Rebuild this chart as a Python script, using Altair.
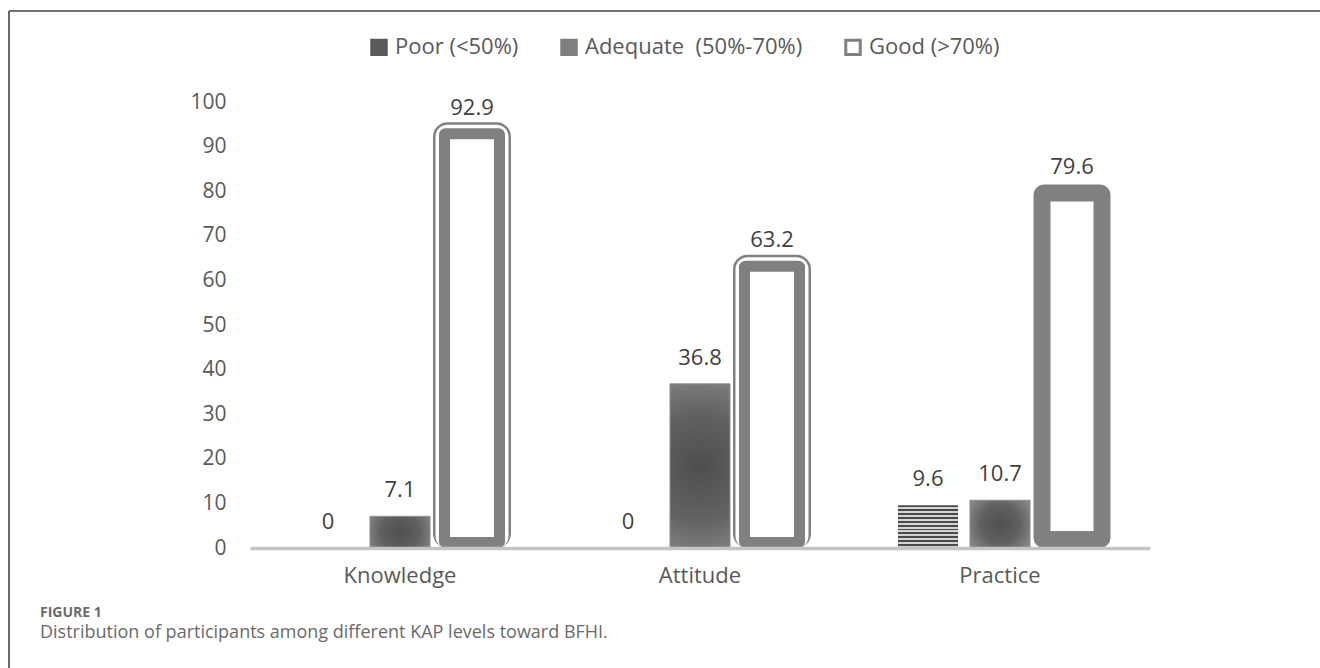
import altair as alt
import pandas as pd

categories = ["Knowledge", "Attitude", "Practice"]
series = ["Poor (<50%)", "Adequate\u00a0\u00a0(50%-70%)", "Good (>70%)"]
poor = [0, 0, 9.6]
adequate = [7.1, 36.8, 10.7]
good = [92.9, 63.2, 79.6]
y_ticks = [0, 10, 20, 30, 40, 50, 60, 70, 80, 90, 100]
caption_head = "FIGURE 1"
caption_text = "Distribution of participants among different KAP levels toward BFHI."

rows = []
for s, vals in zip(series, [poor, adequate, good]):
    for c, v in zip(categories, vals):
        rows.append({"category": c, "series": s, "value": v})
df = pd.DataFrame(rows)

FONT = "Open Sans"
GRAY = "#808080"

x_enc = alt.X("category:N", scale=alt.Scale(domain=categories, paddingInner=0.28, paddingOuter=0.14),
              axis=alt.Axis(title=None, labelFontSize=22, labelColor="#595959", labelFont=FONT,
                            labelPadding=17, ticks=False, domainColor="#c4c4c4", domainWidth=3.5,
                            labelAngle=0, zindex=1))
xo_enc = alt.XOffset("series:N", scale=alt.Scale(domain=series, paddingInner=1/6, paddingOuter=1/12))
y_enc = alt.Y("value:Q", scale=alt.Scale(domain=[0, 100], nice=False),
              axis=alt.Axis(title=None, values=y_ticks, labelFontSize=21, labelColor="#595959",
                            labelFont=FONT, labelPadding=24, ticks=False, domain=False, grid=False))
y2_zero = alt.Y2(datum=0)

base = alt.Chart(df).encode(x=x_enc, xOffset=xo_enc, y=y_enc)

leg = dict(title=None, orient="none", direction="horizontal", legendX=118, legendY=-66,
           symbolType="square", symbolSize=210, symbolStrokeWidth=3, symbolOpacity=1,
           labelFontSize=22, labelColor="#595959", labelFont=FONT, labelLimit=400,
           labelOffset=5, columnPadding=36, padding=0)

# legend carrier
carrier = base.mark_bar(strokeWidth=0, fillOpacity=0).encode(
    color=alt.Color("series:N", scale=alt.Scale(domain=series, range=["#5a5a5a", "#7f7f7f", "#ffffff"]),
                    legend=alt.Legend(**leg)),
    stroke=alt.Stroke("series:N", scale=alt.Scale(domain=series, range=["#5a5a5a", "#7f7f7f", GRAY]),
                      legend=alt.Legend(**leg)),
)

n_str = 11
stripe_stops = []
for i in range(n_str):
    stripe_stops += [
        alt.GradientStop(offset=i / n_str, color="#4a4a4a"),
        alt.GradientStop(offset=(i + 0.5) / n_str, color="#4a4a4a"),
        alt.GradientStop(offset=(i + 0.5) / n_str, color="#d4d4d4"),
        alt.GradientStop(offset=(i + 1) / n_str, color="#d4d4d4"),
    ]
stripes = alt.LinearGradient(gradient="linear", x1=0, y1=0, x2=0, y2=1, stops=stripe_stops)

poor_layer = base.mark_bar(color=stripes).transform_filter(alt.datum.series == series[0])

radial = alt.RadialGradient(gradient="radial", x1=0.5, y1=0.5, r1=0, x2=0.5, y2=0.5, r2=0.6,
                            stops=[alt.GradientStop(offset=0, color="#4e4e4e"),
                                   alt.GradientStop(offset=0.55, color="#626262"),
                                   alt.GradientStop(offset=1, color="#888888")])
adequate_layer = base.mark_bar(color=radial, stroke="#8c8c8c", strokeWidth=1).transform_filter(
    alt.datum.series == series[1])

good_dbl = (alt.datum.series == series[2]) & (alt.datum.category != "Practice")
good_one = (alt.datum.series == series[2]) & (alt.datum.category == "Practice")
ring_a = base.mark_bar(width=55, fill="white", stroke=GRAY, strokeWidth=23, cornerRadius=3,
                       y2Offset=-11.5).encode(y2=y2_zero).transform_filter(good_dbl)
ring_b = base.mark_bar(width=55, fill="white", stroke="white", strokeWidth=18, cornerRadius=3,
                       y2Offset=-9).encode(y2=y2_zero).transform_filter(good_dbl)
ring_c = base.mark_bar(width=55, fill="white", stroke=GRAY, strokeWidth=11, cornerRadius=1,
                       y2Offset=-5.5).encode(y2=y2_zero).transform_filter(good_dbl)
good_prac = base.mark_bar(fill="white", stroke=GRAY, strokeWidth=17, cornerRadius=2,
                          y2Offset=-8.5).encode(y2=y2_zero).transform_filter(good_one)

labels = base.mark_text(dy=-26, fontSize=22, font=FONT, color="#404040").encode(
    text=alt.Text("value:Q", format=".1~f"))

one = pd.DataFrame({"k": [0]})
frame_top = alt.Chart(one).mark_rule(color="#454545", strokeWidth=1.6).encode(
    x=alt.value(-241), x2=alt.value(1070), y=alt.value(-91))
frame_left = alt.Chart(one).mark_rule(color="#454545", strokeWidth=1.6).encode(
    x=alt.value(-241), y=alt.value(-91), y2=alt.value(566))
cap1 = alt.Chart(one).mark_text(text=caption_head, align="left", baseline="alphabetic", font=FONT,
                                fontSize=14, fontWeight="bold", color="#6a6a6a").encode(
    x=alt.value(-210), y=alt.value(515))
cap2 = alt.Chart(one).mark_text(text=caption_text, align="left", baseline="alphabetic", font=FONT,
                                fontSize=18, color="#6a6a6a").encode(
    x=alt.value(-210), y=alt.value(536))

chart = alt.layer(carrier, poor_layer, adequate_layer, ring_a, ring_b, ring_c, good_prac, labels,
                  frame_top, frame_left, cap1, cap2).properties(
    width=900, height=446,
    background="white",
    autosize=alt.AutoSizeParams(type="none"),
    padding={"left": 250, "top": 102, "right": 170, "bottom": 120},
).configure_view(stroke=None, strokeWidth=0)

chart.save("out.html", embed_options={"renderer": "svg", "actions": False})
